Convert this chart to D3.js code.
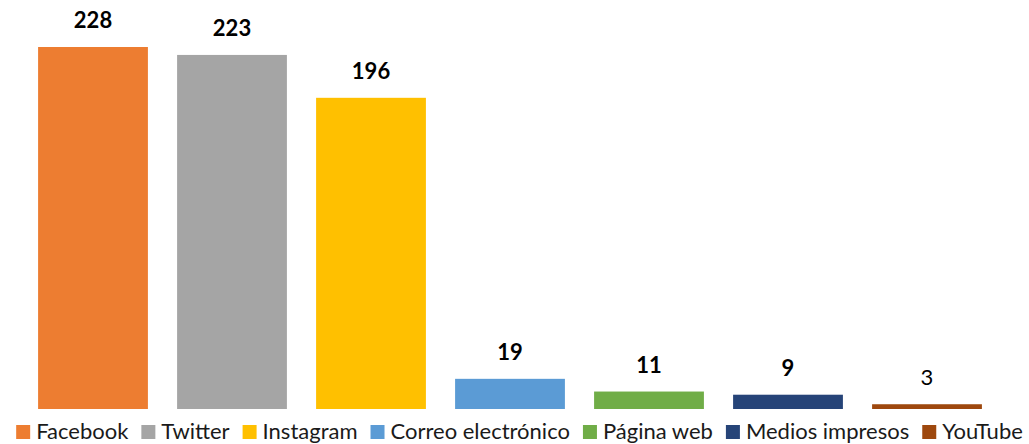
<!DOCTYPE html>
<html lang="en">
<head>
    <meta charset="UTF-8">
    <title>Canales de comunicación</title>
    <style>
        body {
            margin: 0;
            background-color: #ffffff;
            font-family: Lato, "Open Sans", Arial, sans-serif;
        }
        #chart {
            width: 1029px;
            height: 444px;
        }
    </style>
    <script src="https://d3js.org/d3.v7.min.js"></script>
</head>
<body>
    <div id="chart"></div>
    <script>
        // Data
        const categories = ["Facebook", "Twitter", "Instagram", "Correo electrónico", "Página web", "Medios impresos", "YouTube"];
        const values = [228, 223, 196, 19, 11, 9, 3];
        const colors = ["#ED7D31", "#A5A5A5", "#FFC000", "#5B9BD5", "#70AD47", "#264478", "#9E480E"];

        const width = 1029;
        const height = 444;
        const plotLeft = 23.5;
        const plotRight = 996.5;
        const baseline = 409;

        const svg = d3.select('#chart').append('svg')
            .attr('width', width)
            .attr('height', height);

        const x = d3.scaleBand()
            .domain(categories)
            .range([plotLeft, plotRight])
            .paddingInner(0.21)
            .paddingOuter(0.105);

        const y = d3.scaleLinear()
            .domain([0, 228])
            .range([baseline, 47]);

        const data = categories.map((c, i) => ({ name: c, value: values[i], color: colors[i] }));

        // Bars
        svg.append('g')
            .selectAll('rect')
            .data(data)
            .enter().append('rect')
            .attr('x', d => x(d.name))
            .attr('y', d => y(d.value))
            .attr('width', x.bandwidth())
            .attr('height', d => baseline - y(d.value))
            .attr('fill', d => d.color);

        // Value labels (the small YouTube one is not bold in the original)
        svg.append('g')
            .selectAll('text')
            .data(data)
            .enter().append('text')
            .attr('x', d => x(d.name) + x.bandwidth() / 2)
            .attr('y', d => y(d.value) - 19)
            .attr('text-anchor', 'middle')
            .attr('font-size', '22px')
            .attr('font-weight', d => d.name === 'YouTube' ? 'normal' : 'bold')
            .attr('fill', '#000')
            .text(d => d.value);

        // Legend
        const legend = svg.append('g');
        const items = legend.selectAll('g')
            .data(data)
            .enter().append('g');

        items.append('rect')
            .attr('width', 14)
            .attr('height', 14)
            .attr('y', 425)
            .attr('fill', d => d.color);

        items.append('text')
            .attr('x', 20)
            .attr('y', 438.5)
            .attr('font-size', '22px')
            .attr('fill', '#1a1a1a')
            .text(d => d.name);

        // Lay out legend items one after another, then centre the row
        let pos = 0;
        const gap = 13;
        items.each(function() {
            const w = 20 + this.querySelector('text').getComputedTextLength();
            d3.select(this).attr('transform', `translate(${pos},0)`);
            pos += w + gap;
        });
        const total = pos - gap;
        legend.attr('transform', `translate(${(12 + 1027 - total) / 2},0)`);
    </script>
</body>
</html>
